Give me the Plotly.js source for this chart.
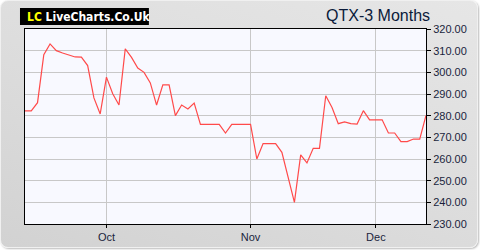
<!DOCTYPE html>
<html>
<head>
<meta charset="utf-8">
<script src="https://cdn.plot.ly/plotly-3.0.1.min.js"></script>
<style>
html,body{margin:0;padding:0;background:#ffffff;}
#wrap{position:absolute;left:0;top:0;width:476px;height:246px;border-radius:8px;
background:linear-gradient(20deg,#d2d2d2 0%,#dcdcdc 45%,#e6e6e6 100%);
border:1px solid #f0f0f0;box-shadow:1px 1px 2px #bbbbbb;}
#chart{position:absolute;left:0;top:0;width:480px;height:250px;}
</style>
</head>
<body>
<div id="wrap"></div>
<div id="chart"></div>
<script>
const prices = [282.2, 282.2, 286, 308.1, 313.1, 310, 308.9, 308.1, 307.1, 307, 303.1, 288.2, 280.8,
  297.8, 290.1, 284.9, 310.8, 306.9, 302, 300, 295.1, 284.9, 294.2, 294.2, 280, 284.9, 283.1, 285.8,
  276, 276, 276, 276, 272, 276, 276, 276, 276, 260, 267.1, 267.1, 267.1, 263.1, 252, 240,
  261.9, 258.2, 264.9, 264.9, 289.2, 283.8, 276.3, 277.1, 276.3, 276.1, 282.3, 278.1, 278.1, 278.1,
  272, 272, 268, 268, 269.2, 269.2, 280.1];
const monthLabels = ["Oct", "Nov", "Dec"];
const monthStartIndex = [13, 36, 56];
const yTicks = [230, 240, 250, 260, 270, 280, 290, 300, 310, 320];

const xIdx = prices.map((_, i) => i);

const trace = {
  x: xIdx, y: prices, type: 'scatter', mode: 'lines',
  line: {color: '#ff4a4a', width: 1.2},
  hoverinfo: 'skip'
};

const tickFont = {family: 'Liberation Sans, Arial, sans-serif', size: 11, color: '#1a1f3c'};

const layout = {
  width: 480, height: 250,
  margin: {l: 25, r: 54, t: 29, b: 26, pad: 0},
  paper_bgcolor: 'rgba(0,0,0,0)',
  plot_bgcolor: '#f8f9ff',
  showlegend: false,
  xaxis: {
    range: [0, 64], tickvals: monthStartIndex, ticktext: monthLabels,
    showgrid: true, gridcolor: '#c8c8c8', gridwidth: 1,
    showline: true, linecolor: '#000000', linewidth: 1, mirror: true,
    ticks: 'outside', ticklen: 3, tickcolor: '#000000',
    tickfont: tickFont, zeroline: false, fixedrange: true
  },
  yaxis: {
    side: 'right', range: [230, 320], tickvals: yTicks,
    ticktext: yTicks.map(v => v.toFixed(2)),
    showgrid: true, gridcolor: '#c8c8c8', gridwidth: 1,
    showline: true, linecolor: '#000000', linewidth: 1, mirror: true,
    ticks: 'outside', ticklen: 4, tickcolor: '#000000',
    tickfont: tickFont, zeroline: false, fixedrange: true
  },
  shapes: [{
    type: 'rect', xref: 'paper', yref: 'paper',
    x0: -0.0125, x1: 0.309, y0: 1.0205, y1: 1.1077,
    fillcolor: '#000000', line: {width: 0}, layer: 'above'
  }],
  annotations: [
    {
      xref: 'paper', yref: 'paper', x: 0.0, y: 1.064, xanchor: 'left', yanchor: 'middle',
      text: "<b><span style='color:#ffff00'>LC</span> LiveCharts.Co.Uk</b>",
      showarrow: false,
      font: {family: 'DejaVu Sans Condensed, Liberation Sans Narrow, sans-serif', size: 12, color: '#ffffff'}
    },
    {
      xref: 'paper', yref: 'paper', x: 1.015, y: 1.07, xanchor: 'right', yanchor: 'middle',
      text: 'QTX-3 Months', showarrow: false,
      font: {family: 'Liberation Sans, Arial, sans-serif', size: 16, color: '#0a1a3a'}
    }
  ]
};

Plotly.newPlot('chart', [trace], layout, {displayModeBar: false, staticPlot: true});
</script>
</body>
</html>
